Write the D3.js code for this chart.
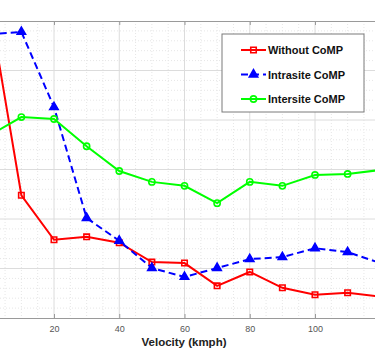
<!DOCTYPE html>
<html>
<head>
<meta charset="utf-8">
<script src="https://cdn.jsdelivr.net/npm/d3@7"></script>
<style>
  body { margin: 0; background: #fff; }
  svg { display: block; font-family: "Liberation Sans", Arial, sans-serif; }
</style>
</head>
<body>
<div class="canva"></div>
<script>
// velocity in kmph
const velocity = [0, 10, 20, 30, 40, 50, 60, 70, 80, 90, 100, 110, 120];
// y values (no y labels visible, arbitrary units)
const withoutComp = [6.38, 2.48, 1.58, 1.64, 1.52, 1.13, 1.11, 0.65, 0.93, 0.61, 0.47, 0.51, 0.43];
const intrasiteComp = [5.73, 5.78, 4.26, 2.02, 1.56, 1.01, 0.83, 1.01, 1.19, 1.23, 1.41, 1.33, 1.11];
const intersiteComp = [3.68, 4.06, 4.02, 3.47, 2.97, 2.75, 2.67, 2.32, 2.75, 2.67, 2.89, 2.91, 2.99];
const xTicks = [0, 20, 40, 60, 80, 100, 120];
const seriesNames = ['Without CoMP', 'Intrasite CoMP', 'Intersite CoMP'];

const W = 375, H = 360;
const x = d3.scaleLinear().domain([0, 120]).range([-11.25, 380.25]);
const y = d3.scaleLinear().domain([0, 6]).range([318, 21]);

const svg = d3.select('.canva').append('svg')
  .attr('width', W)
  .attr('height', H);

svg.append('defs').append('clipPath').attr('id', 'plot')
  .append('rect')
  .attr('x', x(0)).attr('y', y(6))
  .attr('width', x(120) - x(0)).attr('height', y(0) - y(6));

// grid
const grid = svg.append('g');
grid.selectAll('.minx')
  .data(d3.range(0, 121, 5).filter(d => d % 20 !== 0))
  .enter().append('line')
  .attr('x1', d => x(d)).attr('x2', d => x(d))
  .attr('y1', y(6)).attr('y2', y(0))
  .attr('stroke', '#e6e6e6').attr('stroke-dasharray', '1,2');
grid.selectAll('.miny')
  .data(d3.range(0, 6.01, 0.2).filter(d => Math.abs(d - Math.round(d)) > 0.01))
  .enter().append('line')
  .attr('x1', 0).attr('x2', W)
  .attr('y1', d => y(d)).attr('y2', d => y(d))
  .attr('stroke', '#e6e6e6').attr('stroke-dasharray', '1,2');
grid.selectAll('.majx')
  .data(xTicks)
  .enter().append('line')
  .attr('x1', d => x(d)).attr('x2', d => x(d))
  .attr('y1', y(6)).attr('y2', y(0))
  .attr('stroke', '#dcdcdc');
grid.selectAll('.majy')
  .data(d3.range(1, 6))
  .enter().append('line')
  .attr('x1', 0).attr('x2', W)
  .attr('y1', d => y(d)).attr('y2', d => y(d))
  .attr('stroke', '#dcdcdc');

// axes (bottom and top box edge); 0 and 120 labels fall outside the crop
const xAxis = d3.axisBottom(x).tickValues(xTicks).tickSizeInner(-4).tickSizeOuter(0).tickPadding(8)
  .tickFormat(d => (d === 0 || d === 120) ? '' : d);
const gx = svg.append('g').attr('transform', `translate(0,${y(0)})`).call(xAxis);
gx.select('.domain').attr('stroke', '#9a9a9a').attr('stroke-width', 1.2);
gx.selectAll('.tick line').attr('stroke', '#9a9a9a');
gx.selectAll('.tick text').attr('fill', '#555').attr('font-size', 9)
  .attr('font-family', '"Liberation Sans", Arial, sans-serif');

const xTop = d3.axisTop(x).tickValues(xTicks).tickSizeInner(-4).tickSizeOuter(0).tickFormat('');
const gt = svg.append('g').attr('transform', `translate(0,${y(6)})`).call(xTop);
gt.select('.domain').attr('stroke', '#9a9a9a').attr('stroke-width', 1.2);
gt.selectAll('.tick line').attr('stroke', '#9a9a9a');

svg.append('text')
  .attr('x', 184).attr('y', 346)
  .attr('text-anchor', 'middle')
  .attr('font-size', 11.5).attr('font-weight', 'bold').attr('fill', '#222')
  .text('Velocity (kmph)');

// series
const series = [
  {name: seriesNames[0], values: withoutComp, color: '#ff0000', dash: null, marker: d3.symbolSquare},
  {name: seriesNames[1], values: intrasiteComp, color: '#0000ff', dash: '7,4', marker: d3.symbolTriangle},
  {name: seriesNames[2], values: intersiteComp, color: '#00ff00', dash: null, marker: d3.symbolCircle}
];

const plot = svg.append('g').attr('clip-path', 'url(#plot)');
const line = d3.line().x(d => x(d[0])).y(d => y(d[1]));

function drawMarker(g, s, size) {
  const p = g.append('path')
    .attr('d', d3.symbol().type(s.marker).size(size))
    .attr('stroke', s.color).attr('stroke-width', 1.6);
  if (s.marker === d3.symbolTriangle) p.attr('fill', s.color);
  else p.attr('fill', 'none');
  return p;
}

series.forEach(s => {
  const pts = velocity.map((v, i) => [v, s.values[i]]);
  plot.append('path')
    .datum(pts)
    .attr('d', line)
    .attr('fill', 'none')
    .attr('stroke', s.color)
    .attr('stroke-width', 2)
    .attr('stroke-dasharray', s.dash);
  pts.forEach(p => {
    const g = plot.append('g').attr('transform', `translate(${x(p[0])},${y(p[1])})`);
    drawMarker(g, s, s.marker === d3.symbolTriangle ? 30 : 30);
  });
});

// legend
const lg = svg.append('g').attr('transform', 'translate(222,34)');
lg.append('rect').attr('width', 142).attr('height', 78)
  .attr('fill', '#fff').attr('stroke', '#7a7a7a').attr('stroke-width', 1);
series.forEach((s, i) => {
  const yy = 16 + i * 24.5;
  lg.append('line')
    .attr('x1', 19).attr('x2', 44).attr('y1', yy).attr('y2', yy)
    .attr('stroke', s.color).attr('stroke-width', 2)
    .attr('stroke-dasharray', s.dash);
  const m = lg.append('g').attr('transform', `translate(31.5,${yy})`);
  drawMarker(m, s, 30);
  lg.append('text')
    .attr('x', 46).attr('y', yy + 4)
    .attr('font-size', 11).attr('font-weight', 'bold').attr('fill', '#111')
    .text(s.name);
});
</script>
</body>
</html>
